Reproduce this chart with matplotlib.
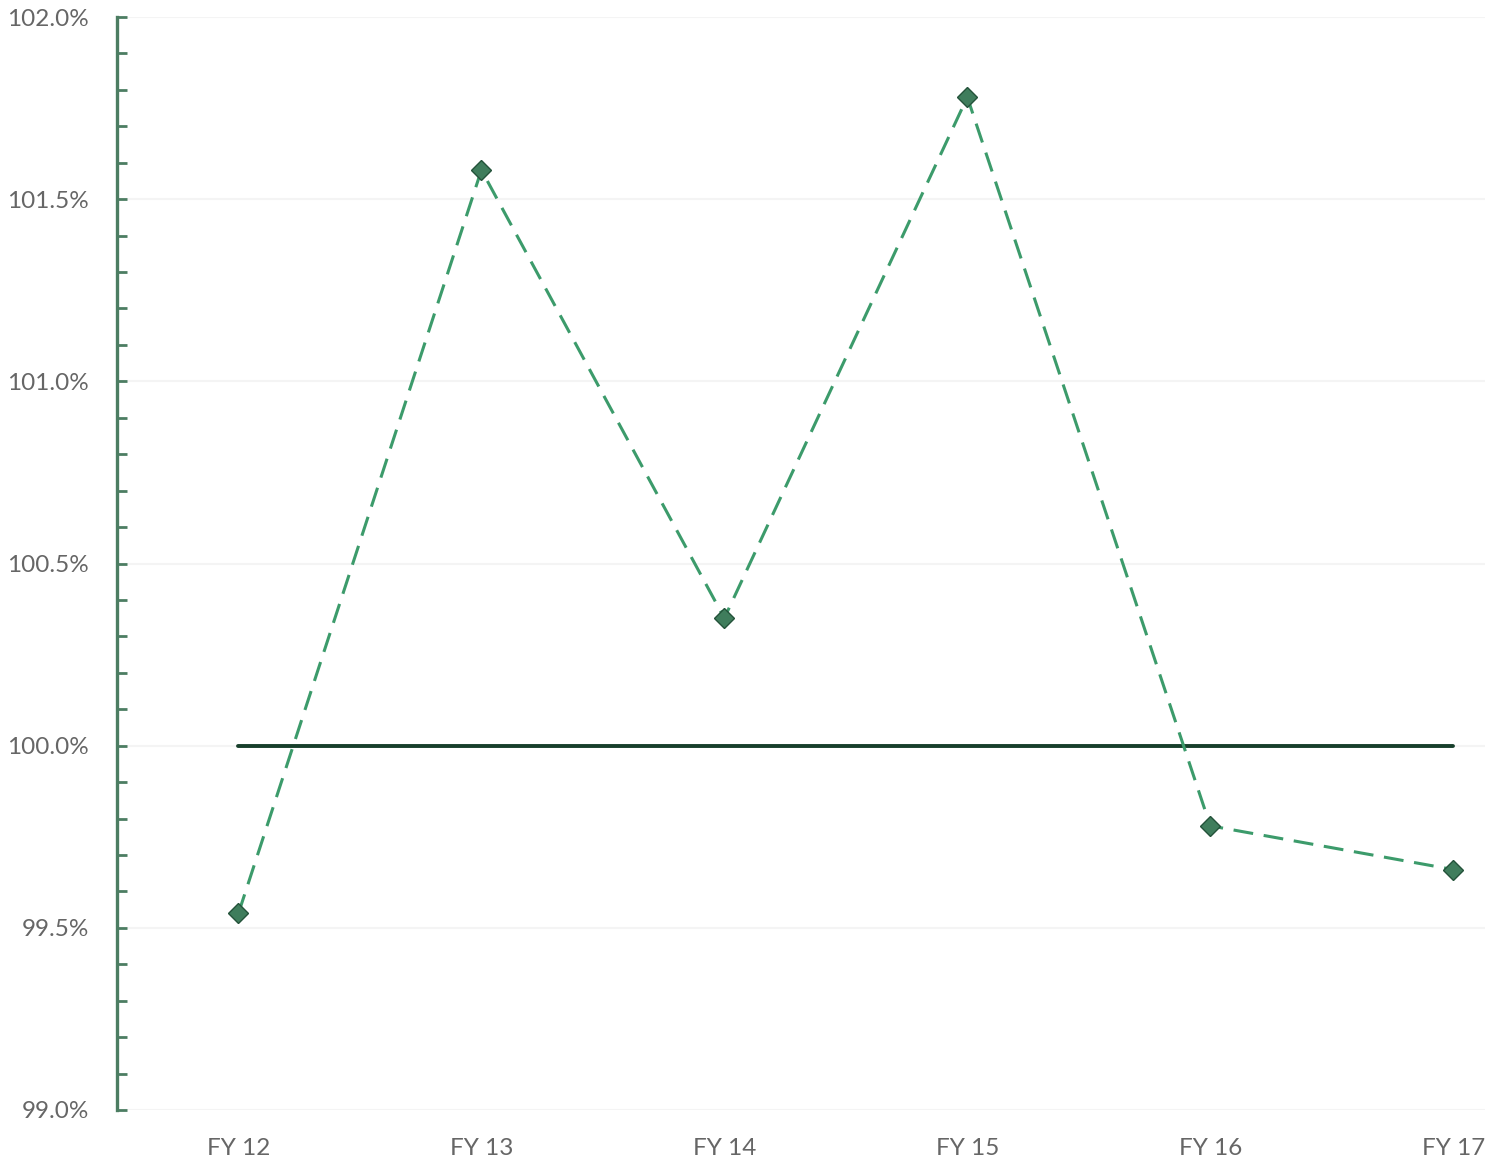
import matplotlib
matplotlib.use("Agg")
import matplotlib.pyplot as plt
from matplotlib.ticker import MultipleLocator, FuncFormatter

# Fiscal years and the ratio for each year (in percent)
years = ["FY 12", "FY 13", "FY 14", "FY 15", "FY 16", "FY 17"]
ratio = [99.54, 101.58, 100.35, 101.78, 99.78, 99.66]
target = [100.0, 100.0, 100.0, 100.0, 100.0, 100.0]

plt.rcParams["font.family"] = ["Lato", "DejaVu Sans"]

fig = plt.figure(figsize=(14.85, 11.64), dpi=100)
ax = fig.add_axes([117 / 1485, 1 - 1110 / 1164, 1369 / 1485, (1110 - 17) / 1164])

x = list(range(len(years)))

# faint horizontal gridlines
ax.set_axisbelow(True)
ax.yaxis.grid(True, which="major", color="#f4f4f4", linewidth=1.5)

# target line at 100%
ax.plot(x, target, color="#173f2b", linewidth=2.8, solid_capstyle="round", zorder=2)

# ratio series: dashed line with diamond markers
ax.plot(x, ratio, color="#3c9b6b", linewidth=2.2, dashes=(6.5, 3.5), zorder=3)
ax.plot(x, ratio, linestyle="none", marker="D", markersize=10,
        markerfacecolor="#3f7d5c", markeredgecolor="#24523a", markeredgewidth=1.0, zorder=4)

ax.set_xlim(-0.5, 5.135)
ax.set_ylim(99.0, 102.0)

ax.set_xticks(x)
ax.set_xticklabels(years)
ax.yaxis.set_major_locator(MultipleLocator(0.5))
ax.yaxis.set_minor_locator(MultipleLocator(0.1))
ax.yaxis.set_major_formatter(FuncFormatter(lambda v, p: f"{v:.1f}%"))

for s in ("top", "right", "bottom"):
    ax.spines[s].set_visible(False)
ax.spines["left"].set_color("#4c7d62")
ax.spines["left"].set_linewidth(2.4)

ax.tick_params(axis="y", which="both", direction="in", length=7, width=2.0,
               color="#4c7d62", labelsize=17.5, labelcolor="#666666", pad=20)
ax.tick_params(axis="x", which="both", length=0, labelsize=17.5,
               labelcolor="#666666", pad=20)

fig.savefig("out.png", dpi=100, facecolor="white")
